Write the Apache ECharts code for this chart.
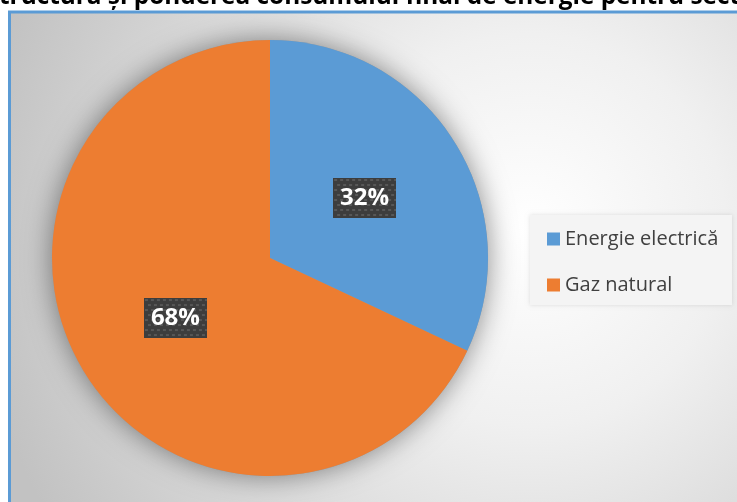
<!DOCTYPE html>
<html><head><meta charset="utf-8">
<script src="https://cdn.jsdelivr.net/npm/echarts@6/dist/echarts.min.js"></script>
<style>html,body{margin:0;padding:0;background:#fff}#c{width:737px;height:502px}</style>
</head><body><div id="c"></div>
<script>
const titleText = 'Structura și ponderea consumului final de energie pentru sectorul';
const categories = ['Energie electrică', 'Gaz natural'];
const values = [32, 68];
const colors = ['#5b9bd5', '#ed7d31'];

// measure title to fit the visible slice
const mc = document.createElement('canvas').getContext('2d');
mc.font = 'bold 20px "Open Sans"';
const visW = mc.measureText('tructura și ponderea consumului final de energie pentru sec').width;
const titleSize = 20 * 731 / visW;
mc.font = 'bold ' + titleSize + 'px "Open Sans"';
const sW = mc.measureText('S').width;

// patterned label background
function makePattern(w, h) {
  const cv = document.createElement('canvas');
  cv.width = w; cv.height = h;
  const g = cv.getContext('2d');
  g.fillStyle = '#3d3d3d'; g.fillRect(0, 0, w, h);
  g.fillStyle = '#575757';
  for (let y = 1, r = 0; y < h; y += 5, r++) {
    for (let x = (r % 2) * 3 + 1; x < w; x += 6) g.fillRect(x, y, 3, 2);
  }
  return cv;
}
const pat = makePattern(63, 40);

const chart = echarts.init(document.getElementById('c'), null, {renderer: 'canvas'});
const total = values.reduce((a, b) => a + b, 0);
chart.setOption({
  animation: false,
  graphic: [
    {type: 'rect', z: -10, shape: {x: 9.5, y: 12, width: 740, height: 500},
     style: {fill: new echarts.graphic.RadialGradient(530, 230, 560,
       [{offset: 0, color: '#ffffff'}, {offset: 0.35, color: '#f0f0f0'}, {offset: 1, color: '#c2c2c2'}], true),
       stroke: '#5b9bd5', lineWidth: 3}},
    {type: 'rect', z: -5, shape: {x: 530, y: 215, width: 202, height: 90},
     style: {fill: '#f4f4f4', shadowBlur: 4, shadowColor: 'rgba(0,0,0,0.12)'}},
    {type: 'text', z: 10, x: -1 - sW, y: 9,
     style: {text: titleText, font: 'bold ' + titleSize + 'px "Open Sans"', fill: '#000', verticalAlign: 'bottom'}}
  ],
  legend: {
    orient: 'vertical', left: 542, top: 222, itemWidth: 13, itemHeight: 13, itemGap: 22,
    icon: 'rect', data: categories,
    textStyle: {fontFamily: 'Open Sans', fontSize: 20, lineHeight: 24, color: '#404040'}
  },
  series: [
    {type: 'pie', silent: true, center: [270, 258], radius: 218, z: 1,
     label: {show: false}, labelLine: {show: false},
     itemStyle: {color: '#9a9a9a', shadowBlur: 28, shadowColor: 'rgba(0,0,0,0.45)'},
     data: [{name: '_shadow', value: total}], legendHoverLink: false},
    {type: 'pie', center: [270, 258], radius: 218, startAngle: 90, clockwise: true, z: 2,
     itemStyle: {borderWidth: 0},
     label: {show: true, position: 'inside',
       formatter: p => p.value + '%',
       fontFamily: 'Open Sans', fontWeight: 'bold', fontSize: 24, color: '#fff',
       width: 63, height: 40, lineHeight: 40, align: 'center',
       backgroundColor: {image: pat},
       shadowBlur: 6, shadowColor: 'rgba(0,0,0,0.5)', shadowOffsetX: 4, shadowOffsetY: 5},
     labelLine: {show: false},
     data: categories.map((c, i) => ({name: c, value: values[i], itemStyle: {color: colors[i]}}))}
  ]
});
</script></body></html>
